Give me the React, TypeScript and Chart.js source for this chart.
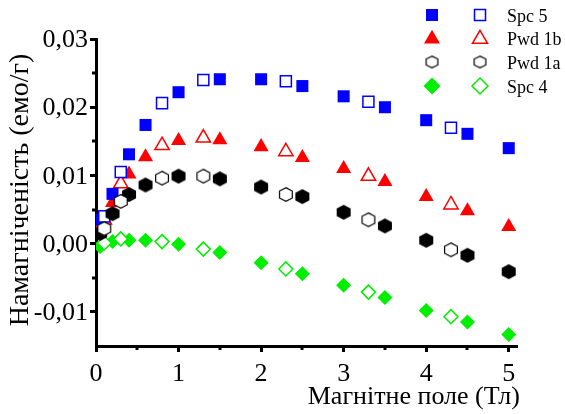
import React, { useEffect, useRef, useState } from 'react';
import { Chart, registerables } from 'chart.js';

Chart.register(...registerables);

// ---------- Data ----------
const seriesNames = ['Spc 5', 'Pwd 1b', 'Pwd 1a', 'Spc 4'];

const spc5FilledX = [0.05, 0.2, 0.4, 0.6, 1.0, 1.5, 2.0, 2.5, 3.0, 3.5, 4.0, 4.5, 5.0];
const spc5FilledY = [0.0035, 0.0073, 0.0131, 0.0174, 0.0222, 0.0241, 0.0241, 0.0231, 0.0216, 0.02, 0.0181, 0.0161, 0.014];
const spc5OpenX = [0.1, 0.3, 0.8, 1.3, 2.3, 3.3, 4.3];
const spc5OpenY = [0.004, 0.0105, 0.0206, 0.024, 0.0238, 0.0208, 0.017];

const pwd1bFilledX = [0.05, 0.2, 0.4, 0.6, 1.0, 1.5, 2.0, 2.5, 3.0, 3.5, 4.0, 4.5, 5.0];
const pwd1bFilledY = [0.003, 0.006, 0.0102, 0.0127, 0.0151, 0.0152, 0.0142, 0.0126, 0.011, 0.0091, 0.0069, 0.0048, 0.0025];
const pwd1bOpenX = [0.1, 0.3, 0.8, 1.3, 2.3, 3.3, 4.3];
const pwd1bOpenY = [0.0035, 0.0088, 0.0144, 0.0155, 0.0135, 0.0099, 0.0057];

const pwd1aFilledX = [0.05, 0.2, 0.4, 0.6, 1.0, 1.5, 2.0, 2.5, 3.0, 3.5, 4.0, 4.5, 5.0];
const pwd1aFilledY = [0.0015, 0.0044, 0.0072, 0.0086, 0.0099, 0.0095, 0.0083, 0.0069, 0.0046, 0.0026, 0.0005, -0.0017, -0.0041];
const pwd1aOpenX = [0.1, 0.3, 0.8, 1.3, 2.3, 3.3, 4.3];
const pwd1aOpenY = [0.0022, 0.0062, 0.0096, 0.0099, 0.0072, 0.0035, -0.0009];

const spc4FilledX = [0.05, 0.2, 0.4, 0.6, 1.0, 1.5, 2.0, 2.5, 3.0, 3.5, 4.0, 4.5, 5.0];
const spc4FilledY = [-0.0004, 0.0003, 0.0005, 0.0005, -0.0001, -0.0013, -0.0028, -0.0044, -0.0061, -0.0079, -0.0098, -0.0115, -0.0133];
const spc4OpenX = [0.1, 0.3, 0.8, 1.3, 2.3, 3.3, 4.3];
const spc4OpenY = [0.0001, 0.0007, 0.0003, -0.0008, -0.0037, -0.0071, -0.0107];

const xMajorTicks = [0, 1, 2, 3, 4, 5];
const xMinorTicks = [0.5, 1.5, 2.5, 3.5, 4.5];
const yMajorTicks = [-0.01, 0, 0.01, 0.02, 0.03];
const yMinorTicks = [-0.005, 0.005, 0.015, 0.025];

const xTitle = 'Магнітне поле (Тл)';
const yTitle = 'Намагніченість (емо/г)';

// ---------- Styling ----------
const W = 565;
const H = 414;
const BLUE = '#0000ff';
const RED = '#ff0000';
const GREEN = '#00ee00';
const BLACK = '#000000';
const FONT = 'serif';
const LEGEND_ROWS = [15, 38, 62, 86];
const LEGEND_FX = 432;
const LEGEND_OX = 480;
const LEGEND_TX = 507;

type Label = {
  text: string;
  x: number;
  y: number; // baseline
  size: number;
  align: 'left' | 'center' | 'right';
  rotate?: boolean;
};

function zip(xs: number[], ys: number[]) {
  return xs.map((x, i) => ({ x, y: ys[i] }));
}

function makeHex(filled: boolean, w = 14, h = 15): HTMLCanvasElement {
  const c = document.createElement('canvas');
  c.width = w + 2;
  c.height = h + 2;
  const ctx = c.getContext('2d') as CanvasRenderingContext2D;
  const cx = c.width / 2;
  const cy = c.height / 2;
  const hw = w / 2 - (filled ? 0 : 0.6);
  const hh = h / 2 - (filled ? 0 : 0.6);
  ctx.beginPath();
  ctx.moveTo(cx, cy - hh);
  ctx.lineTo(cx + hw, cy - hh / 2);
  ctx.lineTo(cx + hw, cy + hh / 2);
  ctx.lineTo(cx, cy + hh);
  ctx.lineTo(cx - hw, cy + hh / 2);
  ctx.lineTo(cx - hw, cy - hh / 2);
  ctx.closePath();
  if (filled) {
    ctx.fillStyle = BLACK;
    ctx.fill();
  } else {
    ctx.fillStyle = '#ffffff';
    ctx.fill();
    ctx.strokeStyle = BLACK;
    ctx.lineWidth = 1.2;
    ctx.stroke();
  }
  return c;
}

function shapePath(ctx: CanvasRenderingContext2D, kind: string, x: number, y: number, s: number) {
  ctx.beginPath();
  if (kind === 'rect') {
    ctx.rect(x - s / 2, y - s / 2, s, s);
  } else if (kind === 'triangle') {
    const r = s / Math.sqrt(3);
    ctx.moveTo(x, y - r);
    ctx.lineTo(x + s / 2, y + r / 2);
    ctx.lineTo(x - s / 2, y + r / 2);
    ctx.closePath();
  } else if (kind === 'diamond') {
    ctx.moveTo(x, y - s / 2);
    ctx.lineTo(x + s / 2, y);
    ctx.lineTo(x, y + s / 2);
    ctx.lineTo(x - s / 2, y);
    ctx.closePath();
  }
}

const fmtY = (v: number) => {
  const s = (Math.abs(v) < 1e-9 ? 0 : v).toFixed(2);
  return s.replace('.', ',');
};

function TextLabel({ l }: { l: Label }) {
  const asc = 0.8375 * l.size;
  const base: React.CSSProperties = {
    position: 'absolute',
    fontFamily: FONT,
    fontSize: l.size,
    lineHeight: `${l.size}px`,
    whiteSpace: 'nowrap',
    color: BLACK,
    margin: 0,
    padding: 0,
  };
  if (l.rotate) {
    return (
      <div
        style={{
          ...base,
          left: l.x,
          top: l.y,
          transformOrigin: '0 0',
          transform: `rotate(-90deg) translate(-50%, ${-asc}px)`,
        }}
      >
        {l.text}
      </div>
    );
  }
  const top = l.y - asc;
  if (l.align === 'left') return <div style={{ ...base, left: l.x, top }}>{l.text}</div>;
  if (l.align === 'right') return <div style={{ ...base, right: W - l.x, top }}>{l.text}</div>;
  return (
    <div style={{ ...base, left: l.x, top, transform: 'translateX(-50%)' }}>{l.text}</div>
  );
}

export default function App() {
  const canvasRef = useRef<HTMLCanvasElement | null>(null);
  const [labels, setLabels] = useState<Label[]>([]);

  useEffect(() => {
    document.body.style.margin = '0';
    const canvas = canvasRef.current;
    if (!canvas) return;

    const hexFilled = makeHex(true);
    const hexOpen = makeHex(false);
    const hexOpenLegend = makeHex(false, 13, 13);

    const clip = { left: 0, right: 20, top: 20, bottom: 20 } as any;

    const decoPlugin = {
      id: 'deco',
      afterDraw(chart: any) {
        const ctx: CanvasRenderingContext2D = chart.ctx;
        const { left, bottom } = chart.chartArea;
        const xs = chart.scales.x;
        const ys = chart.scales.y;
        ctx.save();
        ctx.strokeStyle = BLACK;
        ctx.lineWidth = 3;
        for (const v of xMinorTicks) {
          const px = Math.round(xs.getPixelForValue(v));
          ctx.beginPath();
          ctx.moveTo(px, bottom);
          ctx.lineTo(px, bottom + 4);
          ctx.stroke();
        }
        for (const v of yMinorTicks) {
          const py = Math.round(ys.getPixelForValue(v));
          ctx.beginPath();
          ctx.moveTo(left - 4, py);
          ctx.lineTo(left, py);
          ctx.stroke();
        }

        const rows = LEGEND_ROWS;
        const fx = LEGEND_FX;
        const ox = LEGEND_OX;
        shapePath(ctx, 'rect', fx, rows[0], 12);
        ctx.fillStyle = BLUE;
        ctx.fill();
        shapePath(ctx, 'rect', ox, rows[0], 11);
        ctx.fillStyle = '#fff';
        ctx.fill();
        ctx.strokeStyle = BLUE;
        ctx.lineWidth = 1.5;
        ctx.stroke();

        shapePath(ctx, 'triangle', fx, rows[1] + 1, 16);
        ctx.fillStyle = RED;
        ctx.fill();
        shapePath(ctx, 'triangle', ox, rows[1] + 1, 15);
        ctx.fillStyle = '#fff';
        ctx.fill();
        ctx.strokeStyle = RED;
        ctx.lineWidth = 1.5;
        ctx.stroke();

        ctx.drawImage(hexOpenLegend, fx - hexOpenLegend.width / 2, rows[2] - hexOpenLegend.height / 2);
        ctx.drawImage(hexOpenLegend, ox - hexOpenLegend.width / 2, rows[2] - hexOpenLegend.height / 2);

        shapePath(ctx, 'diamond', fx, rows[3], 17);
        ctx.fillStyle = GREEN;
        ctx.fill();
        shapePath(ctx, 'diamond', ox, rows[3], 16);
        ctx.fillStyle = '#fff';
        ctx.fill();
        ctx.strokeStyle = GREEN;
        ctx.lineWidth = 1.5;
        ctx.stroke();
        ctx.restore();
      },
    };

    const datasets: any[] = [
      { label: 'Pwd 1a open', data: zip(pwd1aOpenX, pwd1aOpenY), pointStyle: hexOpen, pointRadius: 7, backgroundColor: '#fff', borderColor: BLACK, clip },
      { label: 'Pwd 1a', data: zip(pwd1aFilledX, pwd1aFilledY), pointStyle: hexFilled, pointRadius: 7, backgroundColor: BLACK, borderColor: BLACK, clip },
      { label: 'Spc 5 open', data: zip(spc5OpenX, spc5OpenY), pointStyle: 'rect', pointRadius: 7.8, backgroundColor: '#fff', borderColor: BLUE, borderWidth: 1.5, clip },
      { label: 'Spc 5', data: zip(spc5FilledX, spc5FilledY), pointStyle: 'rect', pointRadius: 8.5, backgroundColor: BLUE, borderColor: BLUE, borderWidth: 0, clip },
      { label: 'Pwd 1b open', data: zip(pwd1bOpenX, pwd1bOpenY), pointStyle: 'triangle', pointRadius: 8.3, backgroundColor: '#fff', borderColor: RED, borderWidth: 1.5, clip },
      { label: 'Pwd 1b', data: zip(pwd1bFilledX, pwd1bFilledY), pointStyle: 'triangle', pointRadius: 8.7, backgroundColor: RED, borderColor: RED, borderWidth: 0, clip },
      { label: 'Spc 4 open', data: zip(spc4OpenX, spc4OpenY), pointStyle: 'rectRot', pointRadius: 7, backgroundColor: '#fff', borderColor: GREEN, borderWidth: 1.5, clip },
      { label: 'Spc 4', data: zip(spc4FilledX, spc4FilledY), pointStyle: 'rectRot', pointRadius: 7.5, backgroundColor: GREEN, borderColor: GREEN, borderWidth: 0, clip },
    ];

    const axisGrid = {
      display: true,
      drawOnChartArea: false,
      drawTicks: true,
      tickLength: 6,
      tickWidth: 3,
      tickColor: BLACK,
    };

    const chart = new Chart(canvas, {
      type: 'scatter',
      data: { datasets },
      plugins: [decoPlugin],
      options: {
        animation: false,
        responsive: false,
        maintainAspectRatio: false,
        layout: { padding: { top: 39, right: 48, left: 0, bottom: 0 } },
        plugins: {
          legend: { display: false },
          tooltip: { enabled: false },
          title: { display: false },
        },
        scales: {
          x: {
            type: 'linear',
            min: 0,
            max: 5.1,
            z: 1,
            afterBuildTicks: (scale: any) => {
              scale.ticks = xMajorTicks.map((v) => ({ value: v }));
            },
            afterFit: (scale: any) => {
              scale.height = 68;
            },
            grid: axisGrid,
            border: { display: true, color: BLACK, width: 3 },
            ticks: { display: false },
          },
          y: {
            type: 'linear',
            min: -0.015,
            max: 0.03,
            z: 1,
            afterBuildTicks: (scale: any) => {
              scale.ticks = yMajorTicks.map((v) => ({ value: v }));
            },
            afterFit: (scale: any) => {
              scale.width = 96;
            },
            grid: axisGrid,
            border: { display: true, color: BLACK, width: 3 },
            ticks: { display: false },
          },
        },
      } as any,
    });

    const xs: any = chart.scales.x;
    const ys: any = chart.scales.y;
    const area = chart.chartArea;
    const tickSize = 26;
    const out: Label[] = [];
    yMajorTicks.forEach((v) => {
      out.push({ text: fmtY(v), x: area.left - 8, y: ys.getPixelForValue(v) + 0.34 * tickSize, size: tickSize, align: 'right' });
    });
    xMajorTicks.forEach((v) => {
      out.push({ text: String(v), x: xs.getPixelForValue(v), y: area.bottom + 36, size: tickSize, align: 'center' });
    });
    out.push({ text: xTitle, x: 520, y: 405, size: 26, align: 'right' });
    out.push({ text: yTitle, x: 28, y: (area.top + area.bottom) / 2 - 3, size: 28, align: 'center', rotate: true });
    seriesNames.forEach((name, i) => {
      out.push({ text: name, x: LEGEND_TX, y: LEGEND_ROWS[i] + 7, size: 18, align: 'left' });
    });
    setLabels(out);

    return () => {
      chart.destroy();
    };
  }, []);

  return (
    <div style={{ width: W, height: H, position: 'relative', overflow: 'hidden' }}>
      <canvas ref={canvasRef} width={W} height={H} style={{ display: 'block', width: W, height: H }} />
      {labels.map((l, i) => (
        <TextLabel key={i} l={l} />
      ))}
    </div>
  );
}
